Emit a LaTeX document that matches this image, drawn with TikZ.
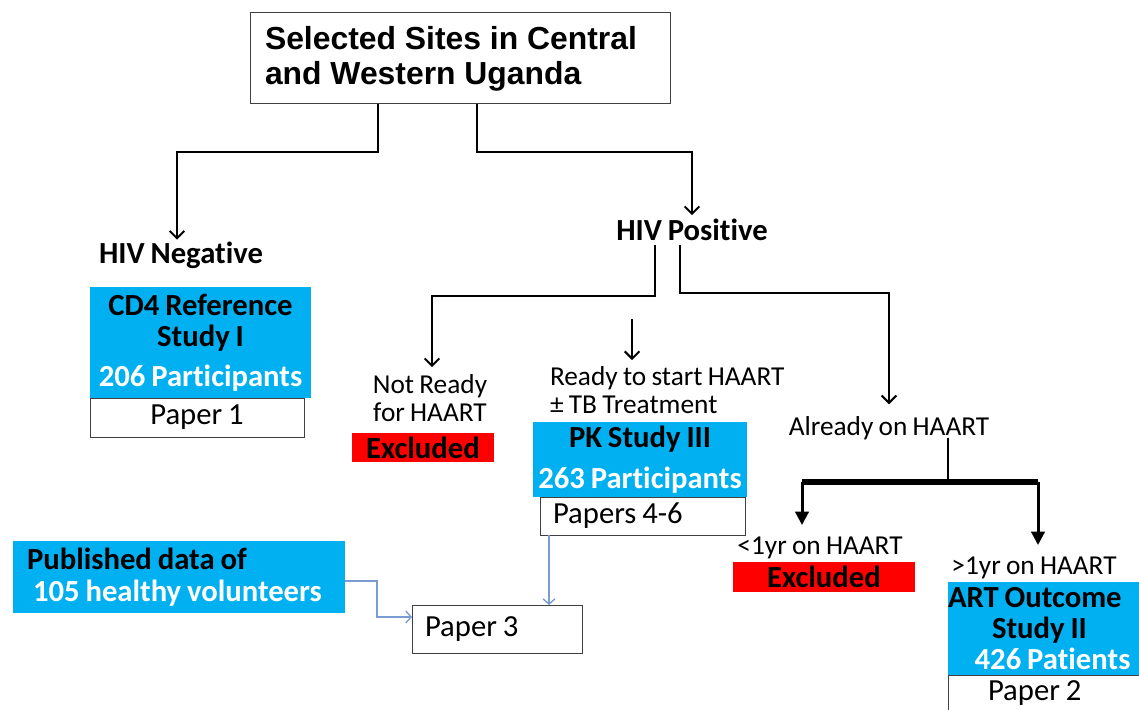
\documentclass[tikz,border=0pt]{standalone}
\usepackage{fontspec}
\setmainfont{Carlito}[Ligatures=NoCommon, WordSpace=0.85]
\newfontfamily\arialf{Liberation Sans}
\usetikzlibrary{arrows.meta,calc}
\definecolor{cyanbox}{RGB}{0,176,240}
\definecolor{redbox}{RGB}{255,0,0}
\definecolor{linkblue}{RGB}{122,156,210}
\begin{document}
\begin{tikzpicture}[x=0.75pt,y=-0.75pt,
  every node/.style={inner sep=0pt, outer sep=0pt, execute at begin node={\spaceskip=0pt\xspaceskip=0pt\relax}},
  reg/.style={font=\fontsize{20.5}{21.5}\selectfont},
  bld/.style={font=\fontsize{23}{23.5}\selectfont\bfseries},
  bluebox/.style={fill=cyanbox, align=center, bld},
  redx/.style={fill=redbox, bld},
  paperbox/.style={draw=black!75, line width=0.75pt, fill=white, font=\fontsize{23}{24}\selectfont},
  conn/.style={line width=1.5pt, -{Straight Barb[length=5.5pt,width=11pt]}},
  plainline/.style={line width=1.5pt},
  barline/.style={line width=4.5pt},
  bararrow/.style={line width=2.25pt, -{Triangle[length=10pt,width=10pt]}},
  linkarr/.style={draw=linkblue, line width=1pt, -{Straight Barb[length=4pt,width=9pt]}}
]
\useasboundingbox[fill=white] (0,0) rectangle (1139,710);

% title
\node[draw=black!75, line width=0.75pt, minimum width=315pt, minimum height=68.25pt,
      anchor=north west, text width=292.5pt, align=left,
      font=\arialf\bfseries\fontsize{23.9}{26.25}\selectfont] (title) at (250,13)
      {Selected Sites in Central\\and Western Uganda};

\node[bld] (hivneg) at (181,255) {HIV Negative};
\node[bld] (hivpos) at (692,230) {HIV Positive};

\draw[conn] ($(title.south west)+(128,0)$) -- ++(0,48) -| ($(hivneg.north)+(-4,-2)$);
\draw[conn] ($(title.south west)+(227,0)$) -- ++(0,48) -| ($(hivpos.north)+(0,-4)$);

% HIV negative branch
\node[bluebox, minimum width=165.75pt, minimum height=83.25pt] (cd4) at (200.5,342.5)
  {CD4 Reference\\Study I\\[6.5pt]\textcolor{white}{206 Participants}};
\node[paperbox, minimum width=160.5pt, minimum height=29.25pt] (paper1) at (197,417.5) {Paper 1};

% HIV positive branches
\node[reg, align=center] (notready) at (430,398) {Not Ready\\for HAART};
\node[redx, minimum width=106.5pt, minimum height=21.75pt] (exc1) at (423,447.5) {Excluded};

\node[reg, align=left, anchor=west] (ready) at (550,390) {Ready to start HAART\\± TB Treatment};
\node[bluebox, minimum width=160.5pt, minimum height=56.25pt] (pk) at (640,459.5)
  {PK Study III\\[7pt]\textcolor{white}{263 Participants}};
\node[paperbox, minimum width=153.75pt, minimum height=28.5pt, text width=134.25pt, align=left] (p46) at (642.5,516) {Papers 4-6};

\node[reg] (already) at (889,428) {Already on HAART};

\draw[conn] ($(hivpos.south)+(-37,4)$) -- ++(0,51) -| ($(notready.north)+(2,-7)$);
\draw[conn] ($(ready.north west)+(82,-47)$) -- ($(ready.north west)+(82,-6)$);
\draw[conn] ($(hivpos.south)+(-12,4)$) -- ++(0,48) -| ($(already.north)+(0,-12)$);

% already on HAART split
\node[reg] (less) at (820,548) {<1yr on HAART};
\node[redx, minimum width=136.5pt, minimum height=22.5pt] (exc2) at (824,577) {Excluded};
\node[reg] (more) at (1034,568) {>1yr on HAART};
\node[bluebox, align=left, minimum width=143.25pt, minimum height=69.75pt, text width=143.25pt, anchor=north west] (art) at (948,582)
  {ART Outcome\\\hspace*{33pt}Study II\\\hspace*{20pt}\textcolor{white}{426 Patients}};
\node[paperbox, anchor=north west, minimum width=165pt, minimum height=27pt, text width=165pt, align=left] (paper2) at (948,675) {\hspace*{30pt}Paper 2};

\coordinate (barL) at (802,482);
\coordinate (barR) at (1038,482);
\draw[plainline] ($(already.south)+(59,-2)$) -- ($(already.south)+(59,40)$);
\draw[barline] (barL) -- (barR);
\draw[bararrow] (barL) -- ($(barL |- less.north)+(0,-12)$);
\draw[bararrow] (barR) -- ($(barR |- more.north)+(0,-12)$);

% published data and paper 3
\node[bluebox, align=left, minimum width=249pt, minimum height=54pt, text width=228pt] (pub) at (179,577)
  {Published data of\\\hspace*{4.5pt}\textcolor{white}{105 healthy volunteers}};
\node[paperbox, minimum width=127.5pt, minimum height=36pt, text width=108pt, align=left] (paper3) at (497,629) {Paper 3};

\draw[linkarr] ($(pub.east)+(0,4)$) -- ++(32,0) |- ($(paper3.west)+(0,-12)$);
\draw[linkarr] ($(p46.south west)+(9,0)$) -- ($(paper3.north east)+(-33,0)$);
\end{tikzpicture}
\end{document}
